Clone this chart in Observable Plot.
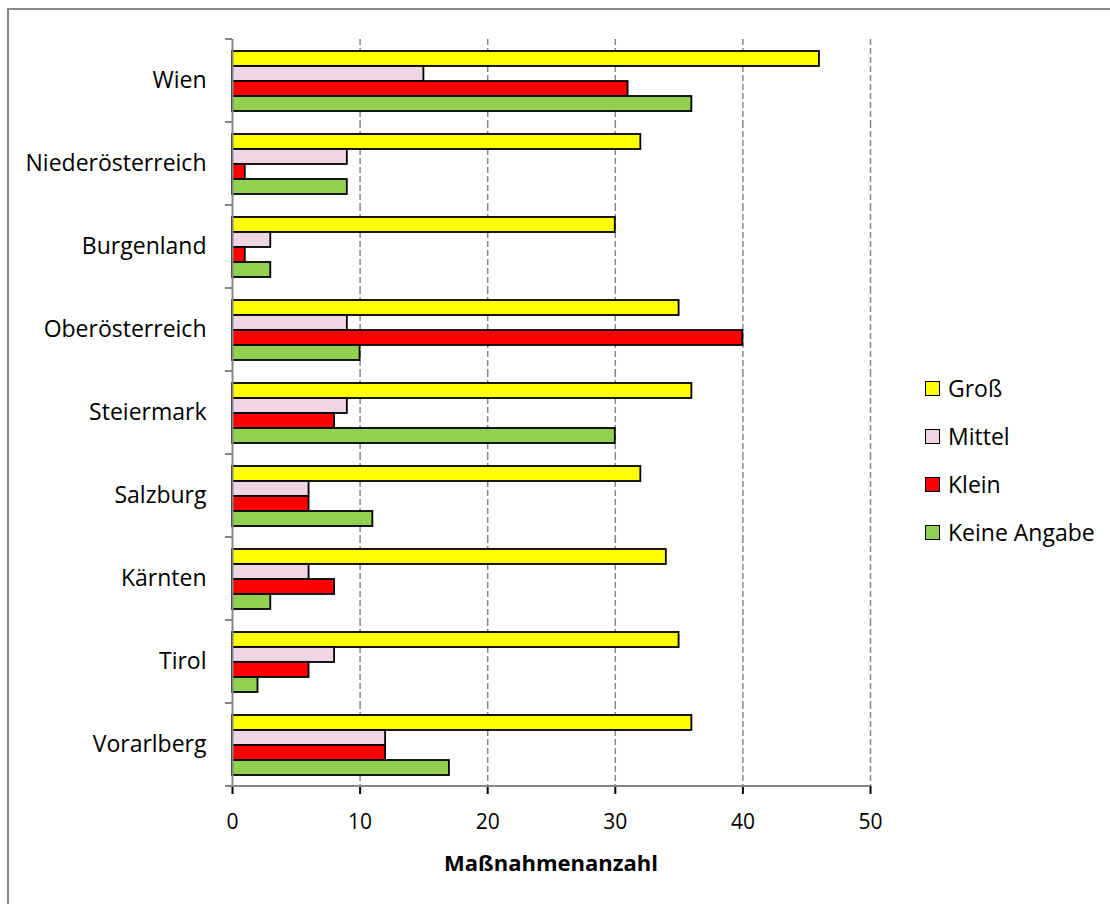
<!DOCTYPE html>
<html>
<head>
<meta charset="utf-8">
<script src="https://cdn.jsdelivr.net/npm/d3@7"></script>
<script src="https://cdn.jsdelivr.net/npm/@observablehq/plot@0.6"></script>
<style>
  body { margin: 0; background: #fff; }
  #wrap { position: relative; width: 1110px; height: 904px; overflow: hidden; font-family: "Open Sans", sans-serif; color: #000; }
  #border { position: absolute; left: 7px; top: 8px; width: 1200px; height: 1000px; border: 2px solid #888; box-sizing: border-box; }
  #chart { position: absolute; left: 0; top: 0; }
  #title { position: absolute; left: 232px; width: 638px; top: 851px; text-align: center; font-size: 22px; line-height: 22px; font-weight: bold; }
  #legend { position: absolute; left: 925px; top: 364px; }
  .item { display: flex; align-items: center; height: 48px; font-size: 23px; }
  .sw { width: 13px; height: 13px; border: 1.5px solid #000; margin-right: 8px; flex: none; }
  g[aria-label="fy-axis tick label"] { font-size: 23px; }
  g[aria-label="x-axis tick"] { stroke: #868686; stroke-width: 2px; }
</style>
</head>
<body>
<div id="wrap">
  <div id="border"></div>
  <div id="chart"></div>
  <div id="title"></div>
  <div id="legend"></div>
</div>
<script>
const regions = ["Wien", "Niederösterreich", "Burgenland", "Oberösterreich", "Steiermark", "Salzburg", "Kärnten", "Tirol", "Vorarlberg"];
const series = ["Groß", "Mittel", "Klein", "Keine Angabe"];
const seriesColors = ["#FFFF00", "#F0D6E4", "#FF0000", "#92D050"];
const gross = [46, 32, 30, 35, 36, 32, 34, 35, 36];
const mittel = [15, 9, 3, 9, 9, 6, 6, 8, 12];
const klein = [31, 1, 1, 40, 8, 6, 8, 6, 12];
const keineAngabe = [36, 9, 3, 10, 30, 11, 3, 2, 17];
const xTicks = [0, 10, 20, 30, 40, 50];
const gridTicks = [10, 20, 30, 40, 50];
const axisTitle = "Maßnahmenanzahl";

const seriesValues = [gross, mittel, klein, keineAngabe];
const data = regions.flatMap((r, i) => series.map((s, j) => ({region: r, series: s, value: seriesValues[j][i]})));

const chart = Plot.plot({
  width: 1110,
  height: 904,
  marginLeft: 232,
  marginRight: 240,
  marginTop: 37,
  marginBottom: 117,
  style: {fontFamily: "Open Sans, sans-serif", fontSize: "21px", color: "#000", background: "transparent", overflow: "visible"},
  x: {domain: [0, 50], ticks: xTicks, tickSize: 8, tickPadding: 20, label: null, axis: "bottom"},
  y: {domain: series, paddingInner: 0, paddingOuter: 0.74, axis: null},
  fy: {domain: regions, padding: 0, axis: "left", tickSize: 0, tickPadding: 26, label: null},
  color: {domain: series, range: seriesColors},
  marks: [
    Plot.ruleX(gridTicks, {stroke: "#868686", strokeWidth: 1.5, strokeDasharray: "6,3"}),
    Plot.barX(data, {x: "value", y: "series", fy: "region", fill: "series", stroke: "#000", strokeWidth: 1.8}),
    Plot.ruleX([0], {stroke: "#868686", strokeWidth: 2})
  ]
});
document.getElementById("chart").appendChild(chart);

// axis decorations (group boundary ticks and bottom axis line) from the plot's scales
const fyS = chart.scale("fy");
const xS = chart.scale("x");
const svg = d3.select(chart);
const deco = svg.append("g").attr("stroke", "#868686").attr("stroke-width", 2);
const bw = fyS.bandwidth;
const bounds = regions.map(r => fyS.apply(r)).concat([fyS.apply(regions[regions.length - 1]) + bw]);
bounds.forEach(y => {
  deco.append("line").attr("x1", xS.apply(0) - 7).attr("x2", xS.apply(0)).attr("y1", y).attr("y2", y);
});
deco.append("line")
  .attr("x1", xS.apply(0) - 7).attr("x2", xS.apply(50))
  .attr("y1", bounds[bounds.length - 1]).attr("y2", bounds[bounds.length - 1]);

document.getElementById("title").textContent = axisTitle;

const legend = document.getElementById("legend");
series.forEach((s, j) => {
  const item = document.createElement("div");
  item.className = "item";
  const sw = document.createElement("div");
  sw.className = "sw";
  sw.style.background = seriesColors[j];
  const label = document.createElement("span");
  label.textContent = s;
  item.appendChild(sw);
  item.appendChild(label);
  legend.appendChild(item);
});
</script>
</body>
</html>
